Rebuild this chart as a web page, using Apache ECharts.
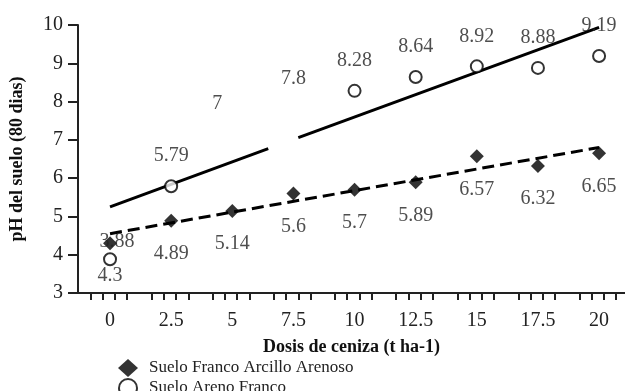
<!DOCTYPE html>
<html>
<head>
<meta charset="utf-8">
<script src="https://cdn.jsdelivr.net/npm/echarts@6/dist/echarts.min.js"></script>
<style>
  html, body { margin: 0; padding: 0; background: #fff; }
  #chart { width: 625px; height: 391px; }
</style>
</head>
<body>
<div id="chart"></div>
<script>
  // dosis de ceniza (t ha-1)
  const doses = [0, 2.5, 5, 7.5, 10, 12.5, 15, 17.5, 20];
  const francoArcilloArenoso = [4.3, 4.89, 5.14, 5.6, 5.7, 5.89, 6.57, 6.32, 6.65];
  const arenoFranco = [3.88, 5.79, 7, 7.8, 8.28, 8.64, 8.92, 8.88, 9.19];
  // points whose marker is blanked out in the original figure
  const hiddenAreno = [2, 3];

  // trend lines (the solid one is broken around 7)
  const trendArcillo = [[0, 4.55], [20, 6.8]];
  const trendArenoA = [[0, 5.25], [6.47, 6.77]];
  const trendArenoB = [[7.7, 7.06], [20, 9.94]];

  const xLabelValues = [0, 2.5, 5, 7.5, 10, 12.5, 15, 17.5, 20];
  const xTickValues = [
    -0.8, -0.3, 0.2, 0.7, 1.7, 2.2, 2.7, 3.2, 4.2, 4.7, 5.2, 5.7,
    6.7, 7.2, 7.7, 8.2, 9.2, 9.7, 10.2, 10.7, 11.7, 12.2, 12.7, 13.2,
    14.2, 14.7, 15.2, 15.7, 16.7, 17.2, 17.7, 18.2, 19.2, 19.7, 20.2, 20.7
  ];

  const serif = '"Liberation Serif", "DejaVu Serif", serif';
  const txt = '#222';

  let chart = echarts.init(document.getElementById('chart'));

  let arcilloData = doses.map((d, i) => [d, francoArcilloArenoso[i]]);

  let arenoData = doses.map((d, i) => {
    let item = { value: [d, arenoFranco[i]] };
    if (hiddenAreno.indexOf(i) >= 0) {
      item.itemStyle = { color: 'rgba(0,0,0,0)', borderColor: 'rgba(0,0,0,0)' };
    }
    if (i === 0) item.label = { offset: [7, 12] };
    if (i === 2) item.label = { offset: [-15, -6] };
    return item;
  });

  function legendBox(name, icon, top) {
    return {
      orient: 'vertical',
      left: 113,
      top: top,
      itemWidth: 20,
      itemHeight: 18,
      textStyle: { fontFamily: serif, fontSize: 17, color: txt, padding: [0, 0, 0, 6] },
      data: [{ name: name, icon: icon }]
    };
  }

  let option = {
    animation: false,
    backgroundColor: '#fff',
    textStyle: { fontFamily: serif },
    grid: { left: 78, right: 0, top: 25, bottom: 98 },
    legend: [
      legendBox('Suelo Franco Arcillo Arenoso', 'diamond', 354),
      legendBox('Suelo Areno Franco', 'emptyCircle', 373)
    ],
    xAxis: {
      type: 'value',
      min: -1.31,
      max: 21.06,
      name: 'Dosis de ceniza (t ha-1)',
      nameLocation: 'middle',
      nameGap: 45,
      nameTextStyle: { fontFamily: serif, fontSize: 18, fontWeight: 'bold', color: '#111' },
      splitLine: { show: false },
      axisLine: { onZero: false, lineStyle: { color: '#222', width: 2 } },
      axisTick: {
        show: true,
        length: 7,
        customValues: xTickValues,
        lineStyle: { color: '#222', width: 2 }
      },
      axisLabel: {
        customValues: xLabelValues,
        margin: 18,
        fontSize: 20,
        color: txt,
        fontFamily: serif
      }
    },
    yAxis: {
      type: 'value',
      min: 3,
      max: 10,
      interval: 1,
      name: 'pH del suelo (80 dias)',
      nameLocation: 'middle',
      nameGap: 52,
      nameRotate: 90,
      nameTextStyle: { fontFamily: serif, fontSize: 18, fontWeight: 'bold', color: '#111' },
      splitLine: { show: false },
      axisLine: { show: true, onZero: false, lineStyle: { color: '#222', width: 2 } },
      axisTick: { show: true, length: 10, lineStyle: { color: '#222', width: 2 } },
      axisLabel: { margin: 15, fontSize: 20, color: txt, fontFamily: serif }
    },
    series: [
      {
        name: 'trend-arcillo',
        type: 'line',
        data: trendArcillo,
        symbol: 'none',
        lineStyle: { color: '#000', width: 3, type: [12, 6] },
        z: 1
      },
      {
        name: 'trend-areno-a',
        type: 'line',
        data: trendArenoA,
        symbol: 'none',
        lineStyle: { color: '#000', width: 3 },
        z: 1
      },
      {
        name: 'trend-areno-b',
        type: 'line',
        data: trendArenoB,
        symbol: 'none',
        lineStyle: { color: '#000', width: 3 },
        z: 1
      },
      {
        name: 'Suelo Franco Arcillo Arenoso',
        type: 'scatter',
        data: arcilloData,
        symbol: 'diamond',
        symbolSize: 14,
        itemStyle: { color: '#000' },
        label: {
          show: true,
          position: 'bottom',
          distance: 16,
          fontSize: 20,
          color: txt,
          fontFamily: serif,
          formatter: p => p.value[1]
        },
        z: 3
      },
      {
        name: 'Suelo Areno Franco',
        type: 'scatter',
        data: arenoData,
        symbol: 'emptyCircle',
        symbolSize: 12,
        itemStyle: { color: '#000', borderColor: '#000', borderWidth: 2.5 },
        label: {
          show: true,
          position: 'top',
          distance: 13,
          fontSize: 20,
          color: txt,
          fontFamily: serif,
          formatter: p => p.value[1]
        },
        z: 3
      }
    ]
  };

  chart.setOption(option);
</script>
</body>
</html>
